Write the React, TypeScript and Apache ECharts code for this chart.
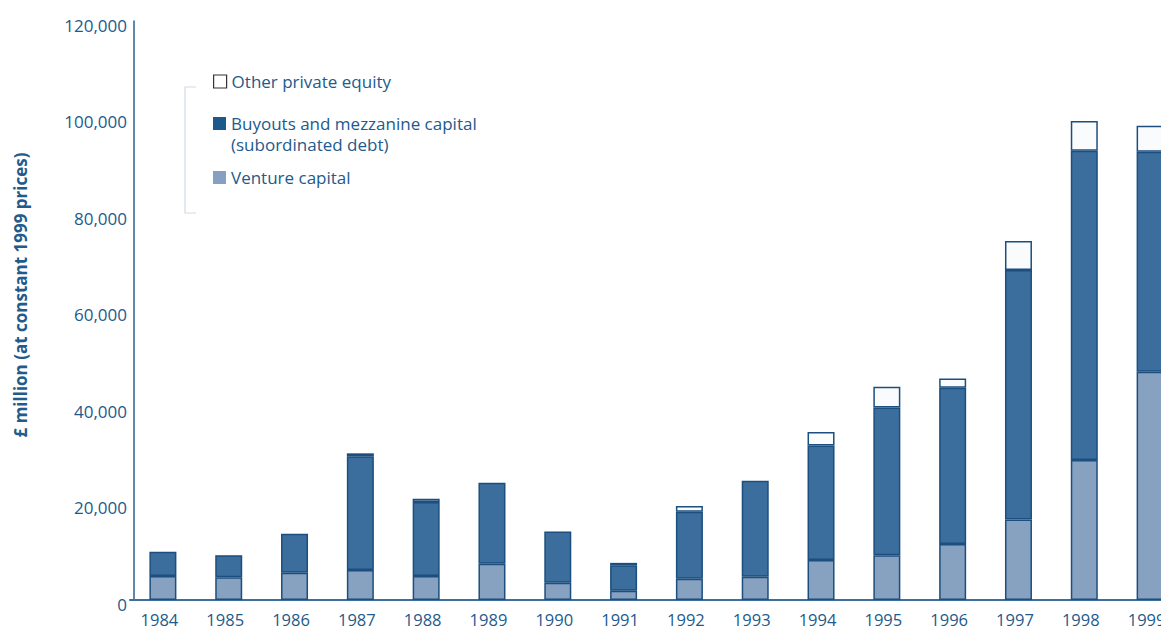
import React, { useEffect, useRef } from "react";
import * as echarts from "echarts";

const years = ["1984", "1985", "1986", "1987", "1988", "1989", "1990", "1991", "1992", "1993", "1994", "1995", "1996", "1997", "1998", "1999"];
const venture = [5000, 4700, 5650, 6200, 5000, 7500, 3600, 1900, 4400, 4800, 8300, 9300, 11600, 16700, 29000, 47300];
const buyouts = [5000, 4600, 8100, 23600, 15300, 16800, 10600, 5300, 13900, 19900, 23700, 30600, 32400, 51700, 64100, 45600];
const other = [0, 0, 0, 600, 700, 0, 0, 500, 1200, 0, 2800, 4300, 1900, 6000, 6150, 5400];
const yTicks = [0, 20000, 40000, 60000, 80000, 100000, 120000];

const NAME_OTHER = "Other private equity";
const NAME_BUY = "Buyouts and mezzanine capital (subordinated debt)";
const NAME_VC = "Venture capital";

const TEXT = "#225a8c";
const FONT = "'Open Sans', 'Noto Sans', sans-serif";

export default function App() {
  const ref = useRef<HTMLDivElement>(null);
  useEffect(() => {
    if (!ref.current) return;
    const chart = echarts.init(ref.current, null, { renderer: "svg" });
    const nz = (a: number[]) => a.map((v) => (v === 0 ? null : v));
    const border = { borderColor: "#1c4f7f", borderWidth: 1.5 };
    const legendBase = {
      orient: "vertical",
      left: 213,
      padding: 0,
      icon: "rect",
      itemWidth: 13,
      itemHeight: 13,
      itemGap: 8,
      selectedMode: false,
      textStyle: { color: TEXT, fontSize: 17, fontFamily: FONT, lineHeight: 21 },
    };
    chart.setOption({
      animation: false,
      backgroundColor: "#ffffff",
      grid: { left: 130, top: 21, width: 1053, height: 579, containLabel: false },
      legend: [
        { ...legendBase, top: 71, data: [{ name: NAME_OTHER, itemStyle: { color: "#ffffff", borderColor: "#333333", borderWidth: 1.2 } }] },
        {
          ...legendBase,
          top: 92,
          data: [{ name: NAME_BUY, itemStyle: { color: "#1d5a8b", borderWidth: 0 } }],
          formatter: () => "\nBuyouts and mezzanine capital\n(subordinated debt)",
        },
        { ...legendBase, top: 167, data: [{ name: NAME_VC, itemStyle: { color: "#86a0c1", borderWidth: 0 } }] },
      ],
      xAxis: {
        type: "category",
        data: years,
        axisLine: { show: true, lineStyle: { color: "#3d6f9c", width: 2 } },
        axisTick: { show: false },
        axisLabel: {
          color: TEXT,
          fontSize: 16.5,
          fontFamily: FONT,
          margin: 12,
          lineHeight: 14,
          interval: 0,
          formatter: (v: string) => `{y|${v}}`,
          rich: { y: { fontSize: 16.5, fontFamily: FONT, color: TEXT, lineHeight: 14, padding: [0, 7, 0, 0] } },
        },
      },
      yAxis: {
        type: "value",
        min: 0,
        max: 120000,
        interval: 20000,
        offset: -4,
        axisLine: { show: true, lineStyle: { color: "#2c5f8e", width: 1.5 } },
        axisTick: { show: false },
        splitLine: { show: false },
        axisLabel: {
          color: TEXT,
          fontSize: 17,
          fontFamily: FONT,
          margin: 7,
          verticalAlign: "top",
          lineHeight: 8,
          formatter: (v: number) => (yTicks.includes(v) ? v.toLocaleString("en-GB") : ""),
        },
      },
      series: [
        {
          name: NAME_VC,
          type: "bar",
          stack: "total",
          barWidth: 27,
          data: nz(venture),
          itemStyle: { color: "#87a1c1", ...border },
        },
        {
          name: NAME_BUY,
          type: "bar",
          stack: "total",
          barWidth: 27,
          data: nz(buyouts),
          itemStyle: { color: "#3b6e9c", ...border },
        },
        {
          name: NAME_OTHER,
          type: "bar",
          stack: "total",
          barWidth: 27,
          data: nz(other),
          itemStyle: { color: "#f9fbfd", ...border },
        },
      ],
      graphic: [
        {
          type: "text",
          x: 20,
          y: 295,
          rotation: Math.PI / 2,
          style: {
            text: "£ million (at constant 1999 prices)",
            fill: TEXT,
            font: `bold 17px ${FONT}`,
            align: "center",
            verticalAlign: "middle",
          },
        },
        {
          type: "polyline",
          shape: { points: [[196, 87], [185, 87], [185, 213], [196, 213]] },
          style: { stroke: "#d3dbe5", lineWidth: 1.2, fill: null },
          silent: true,
        },
      ],
    });
    return () => chart.dispose();
  }, []);
  return (
    <div
      ref={ref}
      style={{ position: "fixed", left: 0, top: 0, width: 1200, height: 629, background: "#fff" }}
    />
  );
}
